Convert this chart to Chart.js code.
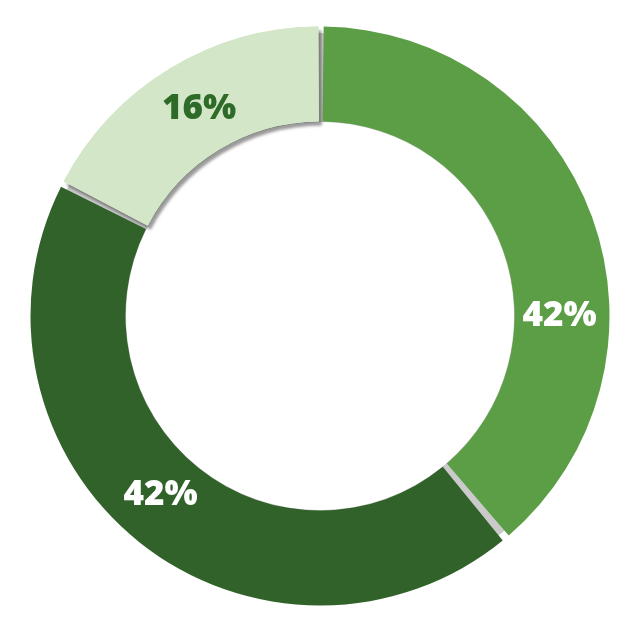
<!DOCTYPE html>
<html>
<head>
<meta charset="utf-8">
<script src="https://cdn.jsdelivr.net/npm/chart.js@4.4.1/dist/chart.umd.min.js"></script>
<style>
  html, body { margin: 0; padding: 0; background: #ffffff; }
  #wrap { width: 635px; height: 635px; }
</style>
</head>
<body>
<div id="wrap"><canvas id="c" width="635" height="635"></canvas></div>
<script>
const categories = ['Segment A', 'Segment B', 'Segment C'];
const shares = [38.9, 43.7, 17.4];
// Percent labels printed on the chart
const printedLabels = ['42%', '42%', '16%'];
const colors = ['#5b9e45', '#316229', '#d3e6c8'];
const labelColors = ['#ffffff', '#ffffff', '#2e6a28'];

const ringShadow = {
  id: 'ringShadow',
  beforeDatasetsDraw(chart) {
    const meta = chart.getDatasetMeta(0);
    if (!meta.data.length) return;
    const a = meta.data[0];
    const ctx = chart.ctx;
    ctx.save();
    ctx.beginPath();
    ctx.arc(a.x, a.y, a.outerRadius - 4, 0, Math.PI * 2);
    ctx.arc(a.x, a.y, a.innerRadius + 2, 0, Math.PI * 2, true);
    ctx.fillStyle = '#cacaca';
    ctx.fill();
    ctx.restore();
    // soft shadow under the light segment
    ctx.save();
    ctx.shadowColor = 'rgba(0,0,0,0.4)';
    ctx.shadowOffsetX = 3;
    ctx.shadowOffsetY = 4;
    ctx.shadowBlur = 3;
    meta.data[2].draw(ctx);
    ctx.restore();
  }
};

const arcLabels = {
  id: 'arcLabels',
  afterDatasetsDraw(chart, args, opts) {
    const meta = chart.getDatasetMeta(0);
    const ctx = chart.ctx;
    ctx.save();
    ctx.font = opts.font;
    ctx.textAlign = 'center';
    ctx.textBaseline = 'middle';
    meta.data.forEach((arc, i) => {
      const mid = (arc.startAngle + arc.endAngle) / 2 + (opts.shift[i] || 0) * Math.PI / 180;
      const r = (arc.innerRadius + arc.outerRadius) / 2;
      ctx.fillStyle = labelColors[i];
      ctx.fillText(printedLabels[i], arc.x + Math.cos(mid) * r, arc.y + Math.sin(mid) * r);
    });
    ctx.restore();
  }
};

new Chart(document.getElementById('c'), {
  type: 'doughnut',
  data: {
    labels: categories,
    datasets: [{
      data: shares,
      backgroundColor: colors,
      borderWidth: 0,
      spacing: 5,
      hoverOffset: 0
    }]
  },
  options: {
    responsive: false,
    animation: false,
    cutout: '66.9%',
    layout: { padding: { left: 30.5, right: 25.5, top: 26.5, bottom: 29.5 } },
    plugins: {
      legend: { display: false },
      tooltip: { enabled: false },
      arcLabels: { font: '800 35px "Open Sans"', shift: [20, 3, 1] }
    }
  },
  plugins: [ringShadow, arcLabels]
});
</script>
</body>
</html>
